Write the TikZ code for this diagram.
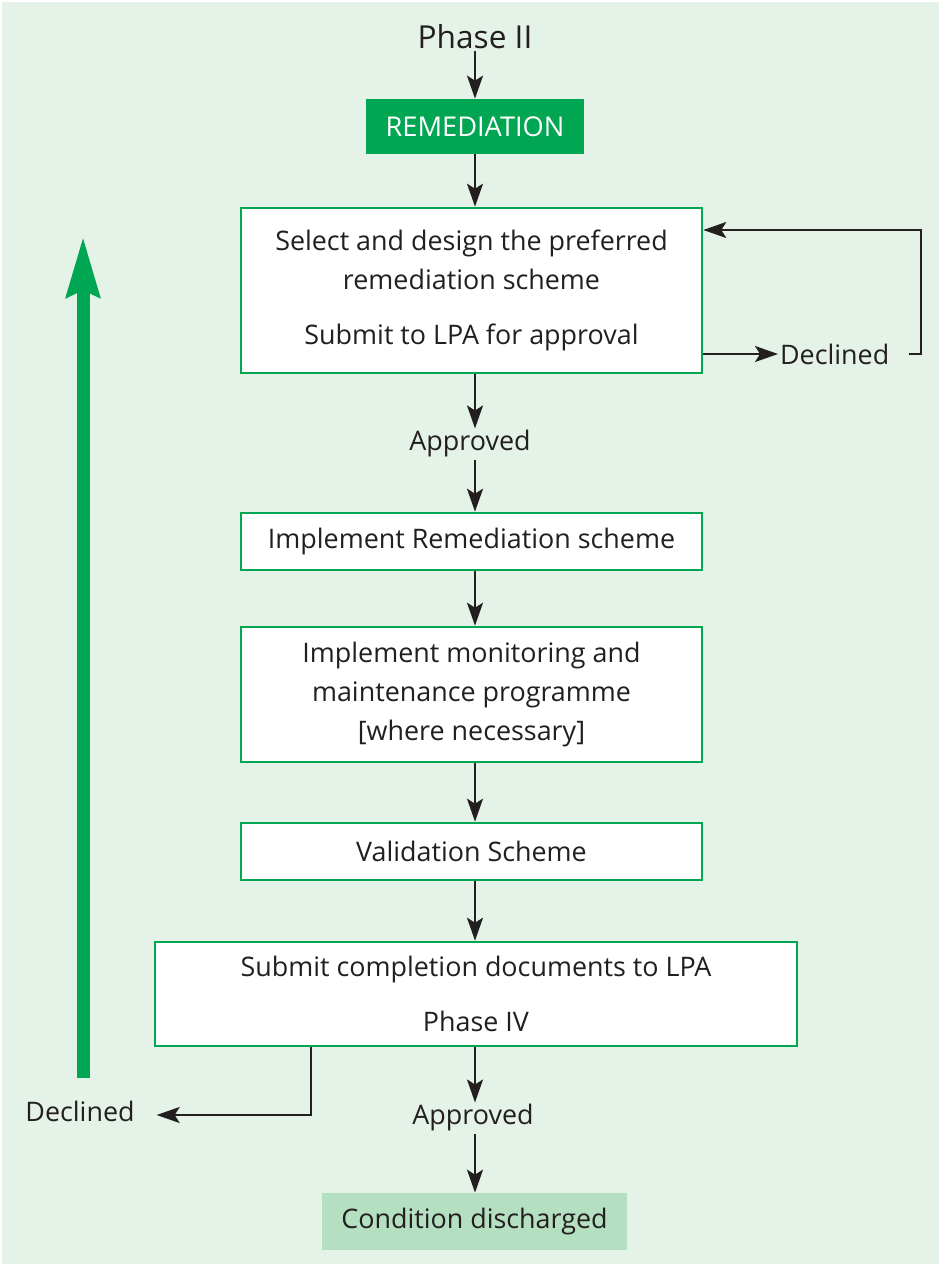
\documentclass[tikz,border=0pt]{standalone}
\usepackage{fontspec}
\setmainfont{Open Sans}
\usetikzlibrary{arrows.meta,positioning}

\definecolor{panelgreen}{HTML}{E4F2E8}
\definecolor{boxgreen}{HTML}{00A651}
\definecolor{donegreen}{HTML}{B4DFC0}
\definecolor{inkblack}{HTML}{231F20}

\tikzset{
  stepbox/.style={draw=boxgreen, line width=1.5pt, fill=white, minimum width=9.22cm,
    align=center, text=inkblack, font=\fontsize{15.3}{22}\selectfont},
  label/.style={text=inkblack, font=\fontsize{15.3}{22}\selectfont, inner sep=1pt},
  flow/.style={draw=inkblack, line width=1.1pt, -{Stealth[length=0.46cm,width=0.32cm,inset=0.1cm]}},
}

\begin{document}
\begin{tikzpicture}[x=0.02cm, y=-0.02cm]
  % panel behind everything
  \useasboundingbox (0,0) rectangle (941,1266);
  \fill[panelgreen] (2,2) rectangle (939,1264);

  % Phase II and the remediation steps
  \node[label, font=\fontsize{18}{22}\selectfont] (phase) at (475,37) {Phase II};
  \node[fill=boxgreen, text=white, minimum width=4.36cm, minimum height=1.1cm,
        font=\fontsize{15.5}{22}\selectfont] (remed) at (475,126.5) {REMEDIATION};

  \node[stepbox, minimum height=3.3cm] (design) at (471.5,290.5)
    {Select and design the preferred\\remediation scheme\\[9pt]Submit to LPA for approval};
  \node[label] (okA) at (470,444) {Approved};
  \node[stepbox, minimum height=1.14cm] (implement) at (471.5,541.5) {Implement Remediation scheme};
  \node[stepbox, minimum height=2.7cm] (monitor) at (471.5,694.5)
    {Implement monitoring and\\maintenance programme\\{[where necessary]}};
  \node[stepbox, minimum height=1.14cm] (valid) at (471.5,851.5) {Validation Scheme};
  \node[stepbox, minimum width=12.84cm, minimum height=2.08cm] (submit) at (476,994)
    {Submit completion documents to LPA\\[9pt]Phase IV};
  \node[label] (okB) at (473,1118) {Approved};
  \node[fill=donegreen, text=inkblack, minimum width=6.1cm, minimum height=1.14cm,
        font=\fontsize{15.3}{22}\selectfont] (done) at (474.5,1221.5) {Condition discharged};

  % declined labels
  \node[label, anchor=west] (declR) at (778,354) {Declined};
  \node[label] (declL) at (80,1111) {Declined};
  \coordinate (loopR) at (921,230);
  \coordinate (turnL) at (311,1115);

  % main flow
  \draw[flow] (phase.south -| remed.north) -- (remed.north);
  \draw[flow] (remed.south) -- (design.north -| remed.south);
  \draw[flow] (design.south -| remed.south) -- (okA.north -| remed.south);
  \draw[flow] (okA.south -| remed.south) -- (implement.north -| remed.south);
  \draw[flow] (implement.south -| remed.south) -- (monitor.north -| remed.south);
  \draw[flow] (monitor.south -| remed.south) -- (valid.north -| remed.south);
  \draw[flow] (valid.south -| remed.south) -- (submit.north -| remed.south);
  \draw[flow] (submit.south -| remed.south) -- (okB.north -| remed.south);
  \draw[flow] (okB.south -| remed.south) -- (done.north -| remed.south);

  % declined loops
  \draw[flow] (design.east |- declR.west) -- (declR.west);
  \draw[flow] ([xshift=0.36cm]declR.east) -- (loopR |- declR.east) -- (loopR) -- (loopR -| design.east);
  \draw[flow] (turnL |- submit.south) -- (turnL) -- ([xshift=0.4cm]declL.east |- turnL);

  % big arrow back up
  \coordinate (backFoot) at (83,1078);
  \coordinate (backHead) at (83,236);
  \draw[boxgreen, line width=0.26cm, -{Stealth[length=1.2cm,width=0.64cm,inset=0.12cm]}] (backFoot) -- (backHead);
\end{tikzpicture}
\end{document}
